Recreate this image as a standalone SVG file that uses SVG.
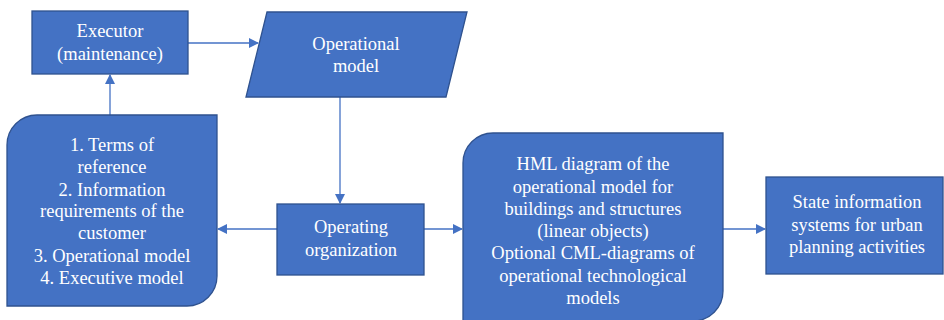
<svg xmlns="http://www.w3.org/2000/svg" width="944" height="320" viewBox="0 0 944 320">
<defs>
<style>
.n{fill:#4472C4;stroke:#2F528F;stroke-width:1.3}
.t{fill:#fff;font-family:'Liberation Serif','Times New Roman',Times,serif;font-size:18.5px;text-anchor:middle}
.c{stroke:#4472C4;stroke-width:1.3;fill:none}
</style>
<marker id="a" viewBox="0 0 10 10" refX="9" refY="5" markerWidth="10" markerHeight="10" markerUnits="userSpaceOnUse" orient="auto">
<path d="M0,0L10,5L0,10z" fill="#4472C4"/>
</marker>
</defs>
<rect width="944" height="320" fill="#fff"/>
<g id="connectors">
<line class="c" x1="188" y1="43" x2="258" y2="43" marker-end="url(#a)"/>
<line class="c" x1="110" y1="115" x2="110" y2="75" marker-end="url(#a)"/>
<line class="c" x1="340" y1="97" x2="340" y2="203" marker-end="url(#a)"/>
<line class="c" x1="277" y1="229" x2="218" y2="229" marker-end="url(#a)"/>
<line class="c" x1="424" y1="229" x2="462" y2="229" marker-end="url(#a)"/>
<line class="c" x1="723" y1="229" x2="765" y2="229" marker-end="url(#a)"/>
</g>
<g id="executor">
<rect class="n" x="32" y="11" width="156" height="63"/>
<text class="t" x="110" y="37" font-family="Liberation Serif">Executor</text>
<text class="t" x="110" y="60" font-family="Liberation Serif">(maintenance)</text>
</g>
<g id="operational-model">
<polygon class="n" points="267,12 467,12 446,97 246,97"/>
<text class="t" x="356" y="50">Operational</text>
<text class="t" x="356" y="72">model</text>
</g>
<g id="documents">
<path class="n" d="M37,115H217V276A30,30 0 0 1 187,306H7V145A30,30 0 0 1 37,115z"/>
<text class="t" x="112" y="151">1. Terms of</text>
<text class="t" x="112" y="173">reference</text>
<text class="t" x="112" y="195.5">2. Information</text>
<text class="t" x="112" y="217">requirements of the</text>
<text class="t" x="112" y="239">customer</text>
<text class="t" x="112" y="261.5">3. Operational model</text>
<text class="t" x="112" y="284">4. Executive model</text>
</g>
<g id="operating-organization">
<rect class="n" x="277" y="204" width="147" height="71"/>
<text class="t" x="351" y="233">Operating</text>
<text class="t" x="351" y="256">organization</text>
</g>
<g id="hml-diagram">
<path class="n" d="M493,133H723V291A30,30 0 0 1 693,321H463V163A30,30 0 0 1 493,133z"/>
<text class="t" x="593" y="170">HML diagram of the</text>
<text class="t" x="593" y="192.5">operational model for</text>
<text class="t" x="593" y="214.5">buildings and structures</text>
<text class="t" x="593" y="237">(linear objects)</text>
<text class="t" x="593" y="259">Optional CML-diagrams of</text>
<text class="t" x="593" y="281.5">operational technological</text>
<text class="t" x="593" y="303.5">models</text>
</g>
<g id="state-information-systems">
<rect class="n" x="766" y="177" width="177" height="97"/>
<text class="t" x="857" y="208">State information</text>
<text class="t" x="857" y="230.5">systems for urban</text>
<text class="t" x="857" y="253">planning activities</text>
</g>
</svg>
